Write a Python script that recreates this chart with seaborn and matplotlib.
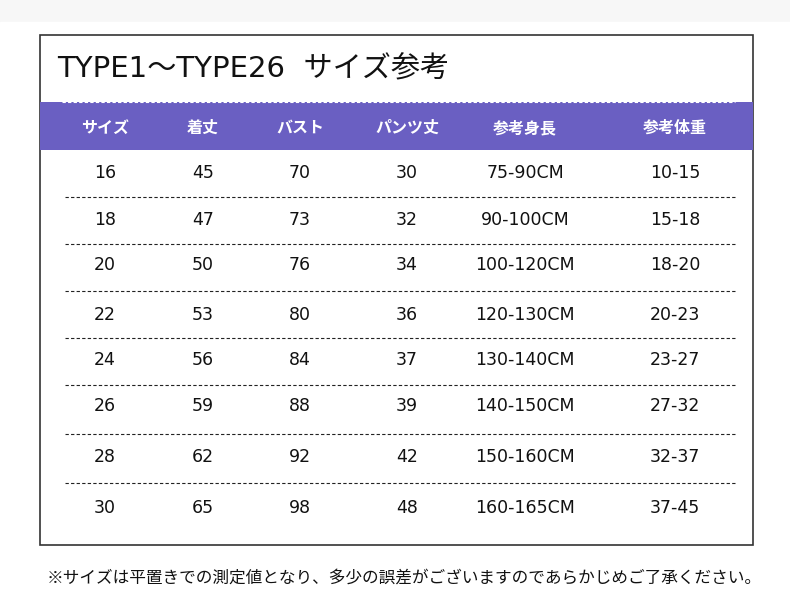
import matplotlib
matplotlib.use("Agg")
import matplotlib.pyplot as plt
import seaborn as sns
from matplotlib.patches import Rectangle

sns.set_theme(style="white")
plt.rcParams['font.family'] = ['Noto Sans CJK JP', 'DejaVu Sans']
LAT = ['DejaVu Sans', 'Noto Sans CJK JP']

title = "TYPE1〜TYPE26  サイズ参考"
headers = ["サイズ", "着丈", "バスト", "パンツ丈", "参考身長", "参考体重"]
size = ["16", "18", "20", "22", "24", "26", "28", "30"]
length = ["45", "47", "50", "53", "56", "59", "62", "65"]
bust = ["70", "73", "76", "80", "84", "88", "92", "98"]
pants = ["30", "32", "34", "36", "37", "39", "42", "48"]
height = ["75-90CM", "90-100CM", "100-120CM", "120-130CM", "130-140CM", "140-150CM", "150-160CM", "160-165CM"]
weight = ["10-15", "15-18", "18-20", "20-23", "23-27", "27-32", "32-37", "37-45"]
note = "※サイズは平置きでの測定値となり、多少の誤差がございますのであらかじめご了承ください。"

cols = [size, length, bust, pants, height, weight]
col_x = [105, 203, 300, 407, 525, 675]
row_y = [173, 220, 267, 314, 361, 409, 458, 508]
row_y_off = [0, 0, -2, 1, -1, -3, -1, 0]

fig = plt.figure(figsize=(7.9, 6.11), dpi=100)
fig.patch.set_facecolor("#f7f7f7")
ax = fig.add_axes([0, 0, 1, 1])
ax.set_xlim(0, 790); ax.set_ylim(611, 0); ax.axis("off")

ax.add_patch(Rectangle((0, 22), 790, 589, color="white", zorder=0))
ax.add_patch(Rectangle((40, 35), 713, 510, fill=False, ec="#333333", lw=1.2))
ax.add_patch(Rectangle((40, 102), 713, 48, color="#6a5fc2", lw=0))
ax.plot([62, 735], [102, 102], color="white", ls=(0, (3, 2)), lw=0.8)
ax.text(57, 69, title, fontsize=21, va="center", ha="left", color="#111111", family=LAT)

for x, h in zip(col_x, headers):
    ax.text(x, 128, h, fontsize=11.5, color="white", ha="center", va="center", fontweight="bold")

for i, y in enumerate(row_y):
    for x, c in zip(col_x, cols):
        ax.text(x, y + row_y_off[i], c[i], fontsize=12.5, ha="center", va="center",
                color="#111111", family=LAT)
    if i < len(row_y) - 1:
        ly = (row_y[i] + row_y[i + 1]) / 2
        ax.plot([65, 735], [ly, ly], color="#222222", ls=(0, (3, 2)), lw=0.8)

ax.text(47, 578, note, fontsize=12, ha="left", va="center", color="#111111")
fig.savefig("out.png", dpi=100)
